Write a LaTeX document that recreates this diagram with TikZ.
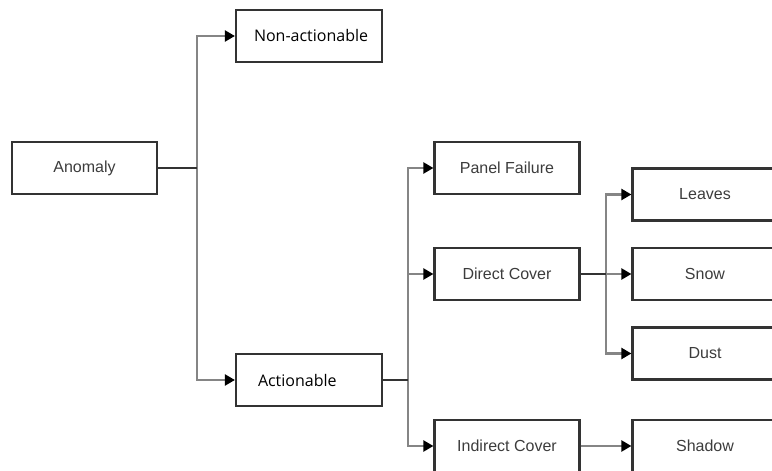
\documentclass[tikz,border=0pt]{standalone}
\usepackage{fontspec}
\setmainfont{Liberation Sans}
\newfontfamily\uifont{Open Sans}
\usetikzlibrary{arrows.meta,positioning}
\definecolor{boxgray}{HTML}{333333}
\definecolor{linegray}{HTML}{858585}
\definecolor{textgray}{HTML}{3C3C3C}

\begin{document}
\begin{tikzpicture}[x=1bp,y=-1bp,
        box/.style={draw=boxgray, line width=2.2bp, minimum width=145bp, minimum height=52bp,
          inner sep=0pt, text=textgray, font=\fontsize{16bp}{19bp}\selectfont},
        leftbox/.style={box, text width=130bp, align=left, inner xsep=8bp, text=black,
          font=\uifont\fontsize{16bp}{19bp}\selectfont},
        stub/.style={draw=boxgray, line width=2.2bp},
        branch/.style={draw=linegray, line width=2.2bp,
          -{Triangle[length=10bp,width=11bp,color=black]}}]
        \clip (0,0) rectangle (772,471);

        % boxes
        \node[box    ] (anomaly)  at (84.5,168) {Anomaly};
        \node[leftbox] (nonact)   at (309,36)   {\hspace*{10bp}Non-actionable};
        \node[leftbox] (act)      at (309,380)  {\hspace*{14bp}Actionable};
        \node[box    ] (panel)    at (507,168)  {Panel Failure};
        \node[box    ] (direct)   at (507,274)  {Direct Cover};
        \node[box    ] (indirect) at (507,446)  {Indirect Cover};
        \node[box    ] (leaves)   at (705,194.5){Leaves};
        \node[box    ] (snow)     at (705,274)  {Snow};
        \node[box    ] (dust)     at (705,353.5){Dust};
        \node[box    ] (shadow)   at (705,446)  {Shadow};

        % forks
        \coordinate (fork1) at (197,168);
        \coordinate (fork2) at (408,380);
        \coordinate (fork3) at (606,274);

        \draw[branch] (fork1) |- (nonact.west);
        \draw[branch] (fork1) |- (act.west);
        \draw[stub  ] (anomaly.east) -- (fork1);

        \draw[branch] (fork2) |- (panel.west);
        \draw[branch] (fork2) |- (direct.west);
        \draw[branch] (fork2) |- (indirect.west);
        \draw[stub  ] (act.east) -- (fork2);

        \draw[branch] (fork3) |- (leaves.west);
        \draw[branch] (fork3) |- (snow.west);
        \draw[branch] (fork3) |- (dust.west);
        \draw[stub  ] (direct.east) -- (fork3);

        \draw[branch] (indirect) -- (shadow);
\end{tikzpicture}
\end{document}
